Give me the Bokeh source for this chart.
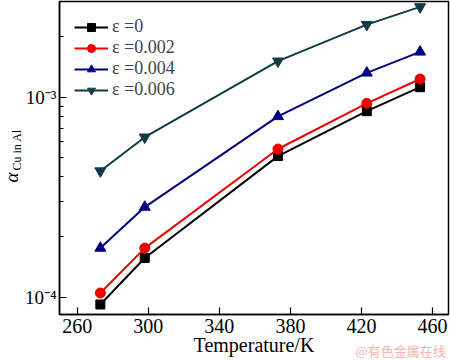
import math
from bokeh.plotting import figure
from bokeh.models import (Range1d, FixedTicker, CustomJSTickFormatter, Legend, LegendItem, Title)
from bokeh.embed import file_html
from bokeh.resources import INLINE

temperature = [273, 298, 373, 423, 453]
eps0 = [9.2e-5, 1.57e-4, 5.07e-4, 8.5e-4, 1.12e-3]
eps002 = [1.05e-4, 1.76e-4, 5.5e-4, 9.3e-4, 1.23e-3]
eps004 = [1.76e-4, 2.82e-4, 8.0e-4, 1.32e-3, 1.68e-3]
eps006 = [4.27e-4, 6.3e-4, 1.51e-3, 2.3e-3, 2.82e-3]
labels = ["ε =0", "ε =0.002", "ε =0.004", "ε =0.006"]
x_ticks = [260, 300, 340, 380, 420, 460]
y_major = [1e-4, 1e-3]
y_minor = [2e-4, 3e-4, 4e-4, 5e-4, 6e-4, 7e-4, 8e-4, 9e-4, 2e-3, 3e-3]

FONT = "Liberation Serif"

p = figure(frame_width=389, frame_height=313, y_axis_type="log",
           x_range=Range1d(250, 469), y_range=Range1d(8.2e-5, 3.0e-3),
           output_backend="svg", toolbar_location=None,
           min_border_left=59, min_border_right=2, min_border_top=1, min_border_bottom=46)
p.xgrid.visible = False
p.ygrid.visible = False
p.outline_line_color = "black"
p.outline_line_width = 1.5

p.xaxis.ticker = FixedTicker(ticks=x_ticks)
p.yaxis.ticker = FixedTicker(ticks=y_major, minor_ticks=y_minor)
p.yaxis.formatter = CustomJSTickFormatter(code="""
const e = Math.round(Math.log10(tick));
const m = {'-':'\u207b','0':'\u2070','1':'\u00b9','2':'\u00b2','3':'\u00b3','4':'\u2074','5':'\u2075','6':'\u2076','7':'\u2077','8':'\u2078','9':'\u2079'};
return '10' + String(e).split('').map(c => m[c]).join('');
""")
for ax in (p.xaxis[0], p.yaxis[0]):
    ax.axis_line_color = "black"
    ax.axis_line_width = 1.5
    ax.major_tick_in = 7
    ax.major_tick_out = 0
    ax.major_tick_line_color = "black"
    ax.major_tick_line_width = 1.2
    ax.minor_tick_in = 4
    ax.minor_tick_out = 0
    ax.minor_tick_line_color = "black"
    ax.major_label_text_font = FONT
    ax.major_label_text_color = "black"
    ax.axis_label_text_font = FONT
    ax.axis_label_text_font_size = "20px"
    ax.axis_label_text_font_style = "normal"
    ax.axis_label_text_color = "black"
p.xaxis.major_label_text_font_size = "20px"
p.yaxis.major_label_text_font_size = "19px"
p.xaxis.major_label_standoff = 4
p.yaxis.major_label_standoff = 3
p.xaxis.axis_label = "Temperature/K"
p.xaxis.axis_label_standoff = -2

series = [eps0, eps002, eps004, eps006]
colors = ["black", "#ee0000", "#00007f", "#0f3a48"]
markers = ["square", "circle", "triangle", "inverted_triangle"]
sizes = [9, 10, 11, 11]
items = []
for ys, c, m, s, lab in zip(series, colors, markers, sizes, labels):
    r1 = p.line(temperature, ys, line_color=c, line_width=2)
    r2 = p.scatter(temperature, ys, marker=m, size=s, fill_color=c, line_color=c)
    items.append(LegendItem(label=lab, renderers=[r1, r2]))

legend = Legend(items=items, location=(15, 214), margin=0, padding=0, spacing=0,
                glyph_width=34, glyph_height=20, label_height=20, label_standoff=4,
                label_text_font=FONT, label_text_font_size="18px",
                border_line_color=None, background_fill_alpha=0)
p.add_layout(legend)

# y-axis label: subscript panel next to the axis, italic alpha just outside it
p.add_layout(Title(text="Cu in Al", align="left", offset=144, standoff=-6, vertical_align="middle",
                   text_font=FONT, text_font_style="normal", text_font_size="12px",
                   text_color="black"), "left")
p.add_layout(Title(text="α", align="left", offset=132, standoff=-23, vertical_align="middle",
                   text_font=FONT, text_font_style="italic", text_font_size="19px",
                   text_color="black"), "left")
p.add_layout(Title(text="@有色金属在线", align="left", offset=296, standoff=-36, vertical_align="top",
                   text_font="Noto Sans CJK SC", text_font_style="normal", text_font_size="13px",
                   text_color="#f5b3b3"), "below")

open("out.html", "w").write(file_html(p, INLINE))
